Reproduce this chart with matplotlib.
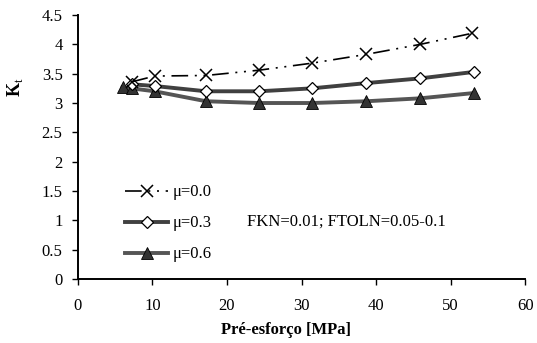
import matplotlib.pyplot as plt
from matplotlib.lines import Line2D

plt.rcParams["font.family"] = ["Liberation Serif", "DejaVu Serif"]
plt.rcParams["mathtext.fontset"] = "custom"
plt.rcParams["mathtext.rm"] = "Liberation Serif"
plt.rcParams["mathtext.bf"] = "Liberation Serif:bold"

# pre-stress (MPa) and stress concentration factor Kt per friction coefficient
x_mu00 = [7.2, 10.3, 17.2, 24.3, 31.4, 38.7, 45.9, 52.9]
kt_mu00 = [3.36, 3.46, 3.47, 3.56, 3.68, 3.83, 4.00, 4.19]

x_mu03 = [7.2, 10.3, 17.2, 24.3, 31.4, 38.7, 45.9, 53.1]
kt_mu03 = [3.32, 3.29, 3.20, 3.20, 3.25, 3.34, 3.42, 3.53]

x_mu06 = [6.0, 7.2, 10.3, 17.2, 24.3, 31.4, 38.7, 45.9, 53.1]
kt_mu06 = [3.27, 3.25, 3.20, 3.03, 3.00, 3.00, 3.03, 3.08, 3.17]

labels = ["\u03bc=0.0", "\u03bc=0.3", "\u03bc=0.6"]
note = "FKN=0.01; FTOLN=0.05-0.1"

dashdotdot = (0, (10, 4, 1.2, 4, 1.2, 4))
style_mu00 = dict(color="black", lw=1.2, marker="x", ms=8, mew=1.1, linestyle=dashdotdot)
style_mu03 = dict(color="#404040", lw=2.8, marker="D", ms=6.5, mfc="white", mec="black", mew=0.9)
style_mu06 = dict(color="#555555", lw=2.8, marker="^", ms=9, mfc="#333333", mec="black", mew=0.6)

fig = plt.figure(figsize=(5.37, 3.43), dpi=100)
ax = fig.add_axes([0.145, 0.187, 0.833, 0.769])

ax.plot(x_mu06, kt_mu06, zorder=2, **style_mu06)
ax.plot(x_mu03, kt_mu03, zorder=3, **style_mu03)
ax.plot(x_mu00, kt_mu00, zorder=4, **style_mu00)

ax.set_xlim(0, 60)
ax.set_ylim(0, 4.5)
ax.set_xticks(range(0, 61, 10))
ax.set_yticks([i * 0.5 for i in range(10)])
ax.set_yticklabels(["0", "0.5", "1", "1.5", "2", "2.5", "3", "3.5", "4", "4.5"])
ax.tick_params(direction="out", length=4, width=1, labelsize=12, colors="black")
ax.tick_params(axis="x", pad=10)
ax.tick_params(axis="y", pad=7)
for side in ("top", "right"):
    ax.spines[side].set_visible(False)
for side in ("left", "bottom"):
    ax.spines[side].set_linewidth(1.4)

ax.set_xlabel("Pr\u00e9-esfor\u00e7o [MPa]", fontsize=12, fontweight="bold")
ax.xaxis.set_label_coords(0.465, -0.165)
# y label sits high, next to the upper tick labels
ax.text(-0.141, 0.727, "$\\mathbf{K}_\\mathregular{t}$", fontsize=13, rotation=90,
        ha="center", va="center", transform=ax.transAxes)

handles = [Line2D([], [], **style_mu00), Line2D([], [], **style_mu03), Line2D([], [], **style_mu06)]
ax.legend(handles, labels, loc="upper left", bbox_to_anchor=(0.105, 0.358),
          frameon=False, fontsize=12, handlelength=2.6, handletextpad=0.25,
          labelspacing=0.9, borderaxespad=0, borderpad=0)

ax.text(22.7, 0.97, note, fontsize=12, ha="left", va="center")

fig.savefig("out.png", dpi=100)
